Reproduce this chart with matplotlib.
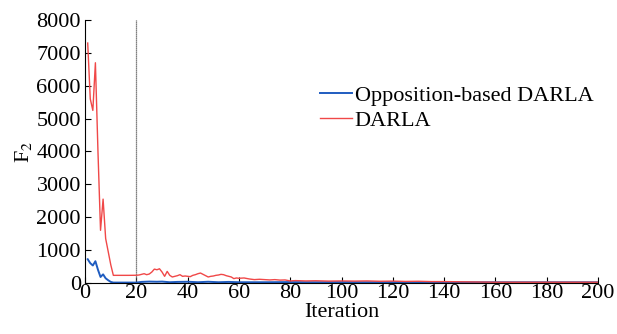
import matplotlib
matplotlib.use('Agg')
import matplotlib.pyplot as plt

# data
iters_red = [1, 2, 3, 4, 5, 6, 7, 8, 9, 10, 11, 14, 17, 20, 21, 22, 23, 24, 25, 26,
             27, 28, 29, 30, 31, 32, 33, 34, 35, 36, 37, 38, 39, 40, 41, 42, 43, 44,
             45, 46, 47, 48, 49, 50, 51, 52, 53, 54, 55, 56, 57, 58, 59, 60, 62, 64,
             66, 68, 70, 72, 74, 76, 78, 80, 82, 86, 90, 95, 100, 105, 110, 115, 120,
             125, 130, 135, 140, 145, 150, 160, 170, 180, 190, 200]
darla = [7300, 5600, 5250, 6700, 4000, 1600, 2550, 1350, 950, 550, 230, 230, 230, 233, 240,
         260, 280, 250, 270, 330, 420, 400, 430, 330, 200, 350, 230, 180, 200, 220, 250,
         200, 210, 200, 190, 230, 250, 280, 300, 260, 220, 180, 200, 210, 230, 240, 260,
         250, 220, 200, 180, 130, 150, 140, 150, 120, 100, 110, 100, 90, 100, 85, 90,
         60, 70, 60, 65, 55, 60, 55, 60, 50, 55, 45, 50, 40, 40, 35, 30, 20, 20, 20, 20, 20]

iters_blue = [1, 2, 3, 4, 5, 6, 7, 8, 9, 10, 11, 15, 20, 22, 25, 28, 30, 33, 36, 40, 44,
              48, 52, 56, 60, 70, 80, 90, 100, 110, 120, 130, 140, 150, 160, 170, 180,
              190, 200]
obdarla = [720, 600, 530, 660, 400, 180, 260, 140, 80, 30, 10, 10, 10, 30, 40, 35, 40, 20,
           30, 35, 20, 35, 20, 30, 20, 20, 25, 20, 25, 20, 25, 20, 20, 20, 20, 20, 20,
           20, 20]

plt.rcParams['font.family'] = ['Liberation Serif', 'DejaVu Serif']
plt.rcParams['mathtext.fontset'] = 'stix'
fs = 16

fig = plt.figure(figsize=(6.17, 3.34), dpi=100)
ax = fig.add_axes([0.138, 0.153, 0.831, 0.787])

ax.plot([20, 20], [0, 8000], color='#555555', lw=0.9, ls=(0, (1, 0.6)))
ax.plot(iters_blue, obdarla, color='#1f5cc0', lw=1.4, label='Opposition-based DARLA')
ax.plot(iters_red, darla, color='#f04848', lw=1.0, label='DARLA')

ax.set_xlim(0, 200)
ax.set_ylim(0, 8000)
ax.set_xticks(range(0, 201, 20))
ax.set_yticks(range(0, 8001, 1000))
ax.tick_params(direction='in', labelsize=fs, length=4)
ax.tick_params(axis='x', pad=1)
ax.tick_params(axis='y', pad=3)
ax.spines['top'].set_visible(False)
ax.spines['right'].set_visible(False)
ax.spines['left'].set_linewidth(0.8)
ax.spines['bottom'].set_linewidth(0.8)

ax.set_xlabel('Iteration', fontsize=fs, labelpad=0)
ax.set_ylabel(r'F$_2$', fontsize=fs, labelpad=2)

ax.legend(loc='center left', bbox_to_anchor=(0.458, 0.665), frameon=False, fontsize=fs,
          handlelength=1.45, handletextpad=0.12, labelspacing=0.2, borderaxespad=0,
          borderpad=0)

fig.savefig('out.png', dpi=100)
